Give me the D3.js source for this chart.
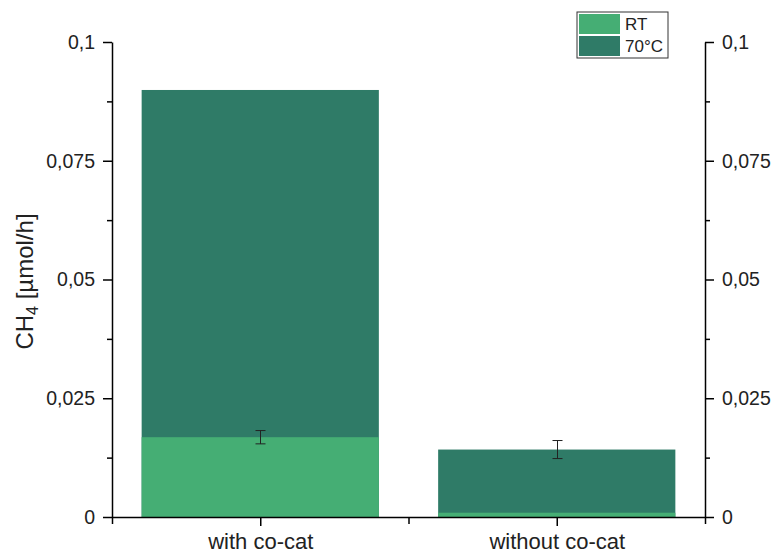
<!DOCTYPE html>
<html>
<head>
<meta charset="utf-8">
<script src="https://cdn.jsdelivr.net/npm/d3@7"></script>
<style>
  html, body { margin: 0; padding: 0; background: #fff; }
  svg { display: block; font-family: "Liberation Sans", Arial, sans-serif; }
</style>
</head>
<body>
<svg id="chart" width="772" height="554"></svg>
<script>
// Categories and measured CH4 rates (µmol/h)
const categories = ["with co-cat", "without co-cat"];
const seriesNames = ["RT", "70°C"];
const rtValues = [0.0168, 0.0009];
const rtErrors = [0.0014, null];
const hotValues = [0.0899, 0.0142];
const hotErrors = [null, 0.0019];
const yTicks = [0, 0.025, 0.05, 0.075, 0.1];
const yTickLabels = ["0", "0,025", "0,05", "0,075", "0,1"];
const yMinorTicks = [0.0125, 0.0375, 0.0625, 0.0875];

const colors = { "RT": "#45ae74", "70°C": "#2f7b67" };

const svg = d3.select("#chart");
const margin = { left: 112, right: 67, top: 42, bottom: 37 };
const W = 772, H = 554;
const x0 = margin.left, x1 = W - margin.right;
const y0 = H - margin.bottom, y1 = margin.top;

// Linear category axis: category i sits at position i+1, range 0.5..2.5
const x = d3.scaleLinear().domain([0.5, 2.5]).range([x0, x1]);
const y = d3.scaleLinear().domain([0, 0.1]).range([y0, y1]);
const barWidth = 0.8;

const rows = categories.map((c, i) => ({
  cat: c, pos: i + 1,
  rt: rtValues[i], rtErr: rtErrors[i],
  hot: hotValues[i], hotErr: hotErrors[i]
}));

// 70°C bars behind, RT bars in front (overlapped)
svg.append("g").selectAll("rect").data(rows).join("rect")
  .attr("x", d => x(d.pos - barWidth / 2))
  .attr("width", d => x(d.pos + barWidth / 2) - x(d.pos - barWidth / 2))
  .attr("y", d => y(d.hot))
  .attr("height", d => y(0) - y(d.hot))
  .attr("fill", colors["70°C"]);

svg.append("g").selectAll("rect").data(rows).join("rect")
  .attr("x", d => x(d.pos - barWidth / 2))
  .attr("width", d => x(d.pos + barWidth / 2) - x(d.pos - barWidth / 2))
  .attr("y", d => y(d.rt))
  .attr("height", d => y(0) - y(d.rt))
  .attr("fill", colors["RT"]);

// Error bars
const errs = [];
rows.forEach(d => {
  if (d.rtErr != null) errs.push({ pos: d.pos, v: d.rt, e: d.rtErr });
  if (d.hotErr != null) errs.push({ pos: d.pos, v: d.hot, e: d.hotErr });
});
const eg = svg.append("g").attr("stroke", "#222").attr("stroke-width", 1).attr("fill", "none");
errs.forEach(d => {
  const cx = Math.round(x(d.pos)) + 0.5;
  const cap = 5;
  eg.append("line").attr("x1", cx).attr("x2", cx).attr("y1", y(d.v - d.e)).attr("y2", y(d.v + d.e));
  eg.append("line").attr("x1", cx - cap).attr("x2", cx + cap).attr("y1", y(d.v + d.e)).attr("y2", y(d.v + d.e));
  eg.append("line").attr("x1", cx - cap).attr("x2", cx + cap).attr("y1", y(d.v - d.e)).attr("y2", y(d.v - d.e));
});

// Axes
const axisStyle = g => {
  g.selectAll(".domain").attr("stroke", "#000").attr("stroke-width", 1.5);
  g.selectAll(".tick line").attr("stroke", "#000").attr("stroke-width", 1.5);
  g.selectAll(".tick text").attr("fill", "#222").attr("font-size", "19.5px");
};

const leftAxis = d3.axisLeft(y).tickValues(yTicks)
  .tickFormat((d, i) => yTickLabels[i]).tickSize(9).tickSizeOuter(0).tickPadding(8);
svg.append("g").attr("transform", `translate(${x0},0)`).call(leftAxis).call(axisStyle);
svg.append("g").attr("transform", `translate(${x0},0)`)
  .call(d3.axisLeft(y).tickValues(yMinorTicks).tickFormat("").tickSize(5).tickSizeOuter(0))
  .call(g => g.select(".domain").remove())
  .call(g => g.selectAll(".tick line").attr("stroke", "#000").attr("stroke-width", 1.5));

const rightAxis = d3.axisRight(y).tickValues(yTicks)
  .tickFormat((d, i) => yTickLabels[i]).tickSize(9).tickSizeOuter(0).tickPadding(8);
svg.append("g").attr("transform", `translate(${x1},0)`).call(rightAxis).call(axisStyle);
svg.append("g").attr("transform", `translate(${x1},0)`)
  .call(d3.axisRight(y).tickValues(yMinorTicks).tickFormat("").tickSize(5).tickSizeOuter(0))
  .call(g => g.select(".domain").remove())
  .call(g => g.selectAll(".tick line").attr("stroke", "#000").attr("stroke-width", 1.5));

const bottomAxis = d3.axisBottom(x).tickValues(rows.map(d => d.pos))
  .tickFormat((d, i) => categories[i]).tickSize(9).tickSizeOuter(0).tickPadding(7);
svg.append("g").attr("transform", `translate(0,${y0})`).call(bottomAxis).call(axisStyle)
  .call(g => g.selectAll(".tick text").attr("font-size", "22px"));
svg.append("g").attr("transform", `translate(0,${y0})`)
  .call(d3.axisBottom(x).tickValues([0.5, 1.5, 2.5]).tickFormat("").tickSize(7).tickSizeOuter(0))
  .call(g => g.select(".domain").remove())
  .call(g => g.selectAll(".tick line").attr("stroke", "#000").attr("stroke-width", 1.5));

// Y axis title
const title = svg.append("text")
  .attr("transform", `translate(33,${(y0 + y1) / 2 + 2}) rotate(-90)`)
  .attr("text-anchor", "middle").attr("font-size", "24px").attr("fill", "#222");
title.append("tspan").text("CH");
title.append("tspan").attr("font-size", "16px").attr("dy", 5).text("4");
title.append("tspan").attr("dy", -5).text(" [µmol/h]");

// Legend
const lg = svg.append("g").attr("transform", "translate(577,12)");
lg.append("rect").attr("width", 91).attr("height", 46).attr("fill", "#fff").attr("stroke", "#333").attr("stroke-width", 1);
seriesNames.forEach((s, i) => {
  lg.append("rect").attr("x", 2).attr("y", 2 + i * 22).attr("width", 41).attr("height", 20).attr("fill", colors[s]);
  lg.append("text").attr("x", 48).attr("y", 18 + i * 22).attr("font-size", "17px").attr("fill", "#222").text(s);
});
</script>
</body>
</html>
